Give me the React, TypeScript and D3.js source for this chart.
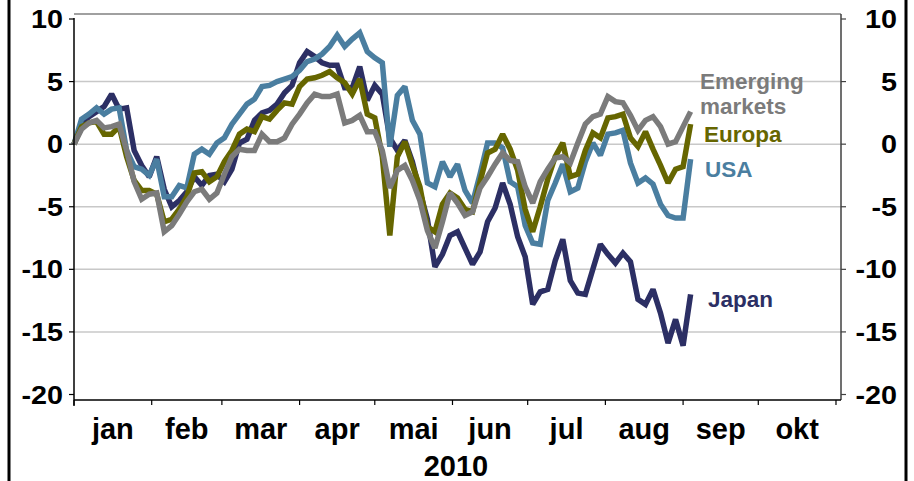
import * as d3 from "d3";

// every 3rd day from 1 Jan 2010
const startDate = new Date(Date.UTC(2010, 0, 1));
const stepDays = 3;

const japan = [
  0, 1.6, 2.2, 2.6, 3.0, 4.0, 2.8, 2.9, -0.5, -1.7,
  -2.6, -1.0, -3.6, -5.0, -4.5, -3.8, -2.6, -3.3, -2.5, -2.4,
  -3.0, -2.0, 0.1, 0.4, 1.9, 2.5, 2.7, 3.2, 4.1, 4.7,
  6.5, 7.4, 7.0, 6.5, 6.3, 6.3, 4.5, 4.5, 6.2, 3.5,
  4.7, 4.0, 0.5, -0.5, 0.3, -1.4, -3.8, -6.0, -9.8, -8.8,
  -7.3, -7.0, -8.3, -9.6, -8.6, -6.2, -5.1, -3.1, -4.8, -7.4,
  -9.0, -12.8, -11.8, -11.6, -9.3, -7.6, -10.9, -11.9, -12.0, -10.0,
  -8.0, -8.8, -9.5, -8.7, -9.4, -12.4, -12.8, -11.6, -13.5, -15.9,
  -14.0, -16.1, -12.0,
];
const usa = [
  0, 2.0, 2.4, 2.9, 2.4, 2.8, 2.9, -0.5, -1.8, -2.0,
  -2.5, -1.2, -4.2, -4.2, -3.3, -3.5, -0.8, -0.4, -0.8, 0.1,
  0.5, 1.6, 2.4, 3.2, 3.6, 4.6, 4.7, 5.0, 5.2, 5.4,
  5.9, 6.6, 6.8, 7.2, 7.8, 8.7, 7.8, 8.4, 8.9, 7.4,
  6.9, 6.5, -0.2, 3.9, 4.6, 1.9, 0.8, -3.1, -3.4, -1.4,
  -2.6, -1.6, -3.7, -4.7, -2.4, 0.1, 0.1, -0.3, -3.0, -3.4,
  -6.5, -7.9, -8.0, -4.5, -3.1, -1.6, -3.8, -3.5, -1.4, 0.1,
  -0.9, 0.8, 0.9, 1.1, -1.5, -3.1, -2.7, -3.2, -4.8, -5.7,
  -5.9, -5.9, -1.2,
];
const europa = [
  0, 1.4, 1.7, 1.8, 0.8, 0.8, 1.4, -1.0, -2.9, -3.7,
  -3.7, -4.0, -6.2, -6.0, -5.2, -4.2, -2.3, -2.2, -3.0, -2.6,
  -1.4, -0.5, 0.8, 1.2, 1.0, 2.2, 2.0, 2.7, 3.3, 3.2,
  4.6, 5.2, 5.3, 5.5, 5.8, 5.3, 4.9, 4.0, 5.2, 2.4,
  2.1, -1.0, -7.3, -1.0, 0.2, -1.7, -3.4, -6.6, -7.0, -4.8,
  -3.9, -4.3, -5.2, -5.4, -3.0, -0.7, -0.4, 0.8, -0.4, -2.1,
  -5.2, -7.0, -5.0, -2.8, -1.0, 0.1, -2.6, -2.4, -0.5, 0.9,
  0.5, 2.1, 2.2, 2.4, 0.5, -0.2, 1.0, -0.4, -1.7, -3.1,
  -2.0, -1.8, 1.6,
];
const emerging = [
  0, 1.2, 1.7, 1.9, 1.3, 1.4, 1.6, -0.5, -3.0, -4.4,
  -4.0, -3.9, -7.0, -6.5, -5.6, -4.6, -3.8, -3.6, -4.4, -3.9,
  -2.4, -1.0, -0.4, -0.5, -0.5, 0.8, 0.2, 0.2, 0.5, 1.6,
  2.4, 3.3, 4.0, 3.8, 3.8, 4.0, 1.7, 1.9, 2.3, 1.0,
  1.0, -0.5, -3.5, -2.1, -1.7, -2.9, -4.5, -6.9, -8.3, -6.2,
  -3.9, -4.7, -5.7, -5.4, -3.5, -2.6, -1.6, -0.7, -1.3, -1.4,
  -3.4, -4.7, -3.0, -2.0, -1.1, -1.0, -1.5, 0.1, 1.6, 2.2,
  2.4, 3.8, 3.4, 3.3, 2.3, 1.1, 1.9, 2.2, 1.4, 0.0,
  0.2, 1.4, 2.6,
];

const monthLabels = ["jan", "feb", "mar", "apr", "mai", "jun", "jul", "aug", "sep", "okt"];
const yTicks = [-20, -15, -10, -5, 0, 5, 10];
const gridTicks = [-15, -10, -5, 0, 5];
const yearLabel = "2010";

const series = [
  { name: "Japan", values: japan, color: "#2c2f64", label: ["Japan"], lx: 708, ly: 307 },
  { name: "USA", values: usa, color: "#4a7ea0", label: ["USA"], lx: 705, ly: 177 },
  { name: "Europa", values: europa, color: "#666600", label: ["Europa"], lx: 704, ly: 142 },
  { name: "Emerging markets", values: emerging, color: "#7b7b7b", label: ["Emerging", "markets"], lx: 700, ly: 89 },
];

const W = 914;
const H = 481;
const PLOT = { left: 74, right: 841, top: 14, bottom: 400 };
const FONT = "'Liberation Sans', Arial, sans-serif";

export default function App() {
  const x = d3
    .scaleUtc()
    .domain([startDate, new Date(Date.UTC(2010, 10, 3))])
    .range([PLOT.left, PLOT.right]);
  const y = d3.scaleLinear().domain([-20, 10]).range([394.5, 19]);

  const dates = japan.map((_, i) => d3.utcDay.offset(startDate, i * stepDays));
  const line = d3
    .line<number>()
    .x((_, i) => x(dates[i]))
    .y((d) => y(d));

  const months = d3.utcMonth.range(startDate, new Date(Date.UTC(2010, 10, 2)));

  return (
    <svg width={W} height={H} style={{ position: "absolute", left: 0, top: 0, background: "#fff" }}>
      {/* page frame lines */}
      <line x1={9} x2={9} y1={0} y2={H} stroke="#000" strokeWidth={3} />
      <line x1={906} x2={906} y1={0} y2={H} stroke="#000" strokeWidth={3} />

      {/* gridlines */}
      {gridTicks.map((t) => (
        <line key={t} x1={PLOT.left} x2={PLOT.right} y1={y(t)} y2={y(t)} stroke="#c8c8c8" strokeWidth={1.5} />
      ))}
      <line x1={PLOT.left} x2={PLOT.right} y1={PLOT.top} y2={PLOT.top} stroke="#808080" strokeWidth={1.5} />

      {/* series */}
      {series.map((s) => (
        <path
          key={s.name}
          d={line(s.values) as string}
          fill="none"
          stroke={s.color}
          strokeWidth={5.5}
          strokeLinejoin="miter"
          strokeMiterlimit={2}
        />
      ))}

      {/* axes */}
      <line x1={PLOT.left} x2={PLOT.left} y1={PLOT.top + 4} y2={PLOT.bottom + 6} stroke="#000" strokeWidth={1.5} />
      <line x1={PLOT.right} x2={PLOT.right} y1={PLOT.top} y2={PLOT.bottom} stroke="#404040" strokeWidth={1.5} />
      <line x1={PLOT.left} x2={PLOT.right} y1={PLOT.bottom} y2={PLOT.bottom} stroke="#000" strokeWidth={1.5} />

      {yTicks.map((t) => (
        <g key={t}>
          <line x1={PLOT.left - 5} x2={PLOT.left} y1={y(t)} y2={y(t)} stroke="#000" strokeWidth={1.2} />
          <line x1={PLOT.right} x2={PLOT.right + 5} y1={y(t)} y2={y(t)} stroke="#404040" strokeWidth={1.2} />
          <text
            transform={`translate(63,${y(t) + 9}) scale(1.15,1)`}
            textAnchor="end"
            fontFamily={FONT}
            fontWeight="bold"
            fontSize={25}
          >
            {t}
          </text>
          <text
            transform={`translate(897,${y(t) + 9}) scale(1.15,1)`}
            textAnchor="end"
            fontFamily={FONT}
            fontWeight="bold"
            fontSize={25}
          >
            {t}
          </text>
        </g>
      ))}

      {months.map((m) => (
        <line key={+m} x1={x(m)} x2={x(m)} y1={PLOT.bottom} y2={PLOT.bottom + 5} stroke="#000" strokeWidth={1.2} />
      ))}
      {monthLabels.map((lbl, i) => {
        const mid = (x(months[i]) + x(months[i + 1])) / 2;
        return (
          <text key={lbl} x={mid} y={439} textAnchor="middle" fontFamily={FONT} fontWeight="bold" fontSize={29}>
            {lbl}
          </text>
        );
      })}
      <text x={456} y={476} textAnchor="middle" fontFamily={FONT} fontWeight="bold" fontSize={29}>
        {yearLabel}
      </text>

      {/* direct labels */}
      {series.map((s) =>
        s.label.map((l, j) => (
          <text
            key={s.name + l}
            x={s.lx}
            y={s.ly + j * 25}
            fontFamily={FONT}
            fontWeight="bold"
            fontSize={22.5}
            fill={s.color}
          >
            {l}
          </text>
        ))
      )}
    </svg>
  );
}
